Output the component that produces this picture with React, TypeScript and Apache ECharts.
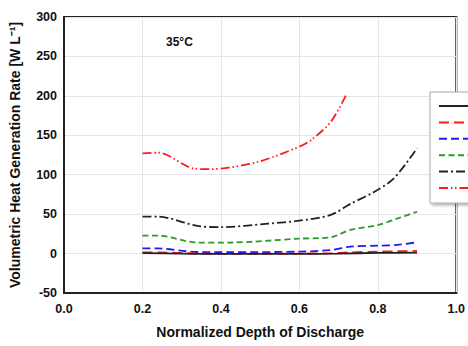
import React, { useEffect, useRef } from "react";
import * as echarts from "echarts";

const seriesNames = ["0.5C", "1C", "2C", "3C", "5C", "10C"];
const seriesColors = ["#222222", "#ff1a1a", "#1a1aff", "#2a9a2a", "#222222", "#ff1a1a"];
const seriesDash: (string | number[])[] = ["solid", [10, 5], [8, 4], [6, 3.5], [9, 3, 2, 3], [9, 3, 1.5, 2.5, 1.5, 3]];

const xBlackSolid = [0.2, 0.3, 0.4, 0.5, 0.6, 0.7, 0.8, 0.9];
const yBlackSolid = [0.5, 0, -0.5, -0.5, -0.5, 0, 0.8, 1.2];
const xRedDash = [0.2, 0.24, 0.34, 0.42, 0.6, 0.68, 0.73, 0.8, 0.85, 0.9];
const yRedDash = [1.5, 1.5, 0, -0.3, 0, 0.5, 1.5, 2.5, 3, 3.5];
const xBlueDash = [0.2, 0.24, 0.34, 0.42, 0.6, 0.68, 0.73, 0.8, 0.85, 0.9];
const yBlueDash = [6.7, 6.5, 2, 1.8, 2.4, 4.5, 8.8, 10, 11, 14.3];
const xGreenDash = [0.2, 0.24, 0.34, 0.42, 0.6, 0.68, 0.73, 0.8, 0.85, 0.9];
const yGreenDash = [22.7, 22.7, 14, 14, 18.9, 20.7, 30, 36, 44.5, 53];
const xBlackDashDot = [0.2, 0.24, 0.34, 0.4, 0.52, 0.6, 0.68, 0.73, 0.79, 0.84, 0.9];
const yBlackDashDot = [46.8, 46.8, 35, 33.5, 38, 41.7, 49, 63, 78, 95, 133.5];
const xRedDashDotDot = [0.2, 0.24, 0.33, 0.37, 0.42, 0.5, 0.6, 0.63, 0.68, 0.72];
const yRedDashDotDot = [127, 128, 108, 107, 109, 117, 135.6, 144, 167, 202];

const xs = [xBlackSolid, xRedDash, xBlueDash, xGreenDash, xBlackDashDot, xRedDashDotDot];
const ys = [yBlackSolid, yRedDash, yBlueDash, yGreenDash, yBlackDashDot, yRedDashDotDot];

const font = "Liberation Sans, Arial, sans-serif";

export default function App() {
  const ref = useRef<HTMLDivElement>(null);
  useEffect(() => {
    if (!ref.current) return;
    const chart = echarts.init(ref.current, undefined, { renderer: "svg" });
    const series = seriesNames.map((name, i) => ({
      name,
      type: "line",
      data: xs[i].map((x, j) => [x, ys[i][j]]),
      smooth: 0.3,
      symbol: "none",
      lineStyle: { color: seriesColors[i], width: 1.8, type: seriesDash[i] },
      itemStyle: { color: seriesColors[i] },
      z: 10 - i,
    }));
    chart.setOption({
      animation: false,
      textStyle: { fontFamily: font },
      grid: {
        left: 64,
        top: 17,
        width: 394,
        height: 276,
        show: true,
        borderColor: "#222",
        borderWidth: 2,
        backgroundColor: "transparent",
      },
      legend: {
        orient: "vertical",
        left: 430,
        top: 92,
        padding: [10, 8, 11, 8],
        itemWidth: 44,
        itemHeight: 10,
        itemGap: 8.4,
        formatter: () => " ",
        textStyle: { fontSize: 7, lineHeight: 8, width: 30 },
        itemStyle: { color: "transparent", borderColor: "transparent", borderWidth: 0, opacity: 0 },
        backgroundColor: "#fff",
        borderColor: "#aaa",
        borderWidth: 1,
        shadowColor: "rgba(0,0,0,0.3)",
        shadowBlur: 3,
        shadowOffsetX: 2,
        shadowOffsetY: 2,
        data: seriesNames,
      },
      xAxis: {
        type: "value",
        min: 0,
        max: 1,
        interval: 0.2,
        name: "Normalized Depth of Discharge",
        nameLocation: "middle",
        nameGap: 32,
        nameTextStyle: { fontSize: 14, fontWeight: "bold", color: "#111", fontFamily: font },
        axisLine: { show: true, onZero: false, lineStyle: { color: "#222", width: 2 } },
        axisTick: { show: false },
        axisLabel: {
          fontSize: 12.5,
          fontWeight: "bold",
          color: "#111",
          margin: 9,
          fontFamily: font,
          formatter: (v: number) => v.toFixed(1),
        },
        splitLine: { show: true, lineStyle: { color: "#e6e6e6", width: 1 } },
      },
      yAxis: {
        type: "value",
        min: -50,
        max: 300,
        interval: 50,
        name: "Volumetric Heat Generation Rate [W L⁻¹]",
        nameLocation: "middle",
        nameGap: 42,
        nameTextStyle: { fontSize: 14, fontWeight: "bold", color: "#111", fontFamily: font },
        axisLine: { show: true, onZero: false, lineStyle: { color: "#222", width: 2 } },
        axisTick: { show: false },
        axisLabel: { fontSize: 12.5, fontWeight: "bold", color: "#111", margin: 7, fontFamily: font },
        splitLine: { show: true, lineStyle: { color: "#e6e6e6", width: 1 } },
      },
      graphic: [
        {
          type: "text",
          left: 166,
          top: 36,
          style: { text: "35°C", fontSize: 12, fontWeight: "bold", fill: "#111", fontFamily: font },
        },
      ],
      series,
    });
    return () => chart.dispose();
  }, []);
  return (
    <div
      ref={ref}
      style={{ position: "fixed", left: 0, top: 0, width: 468, height: 346, background: "#fff" }}
    />
  );
}
